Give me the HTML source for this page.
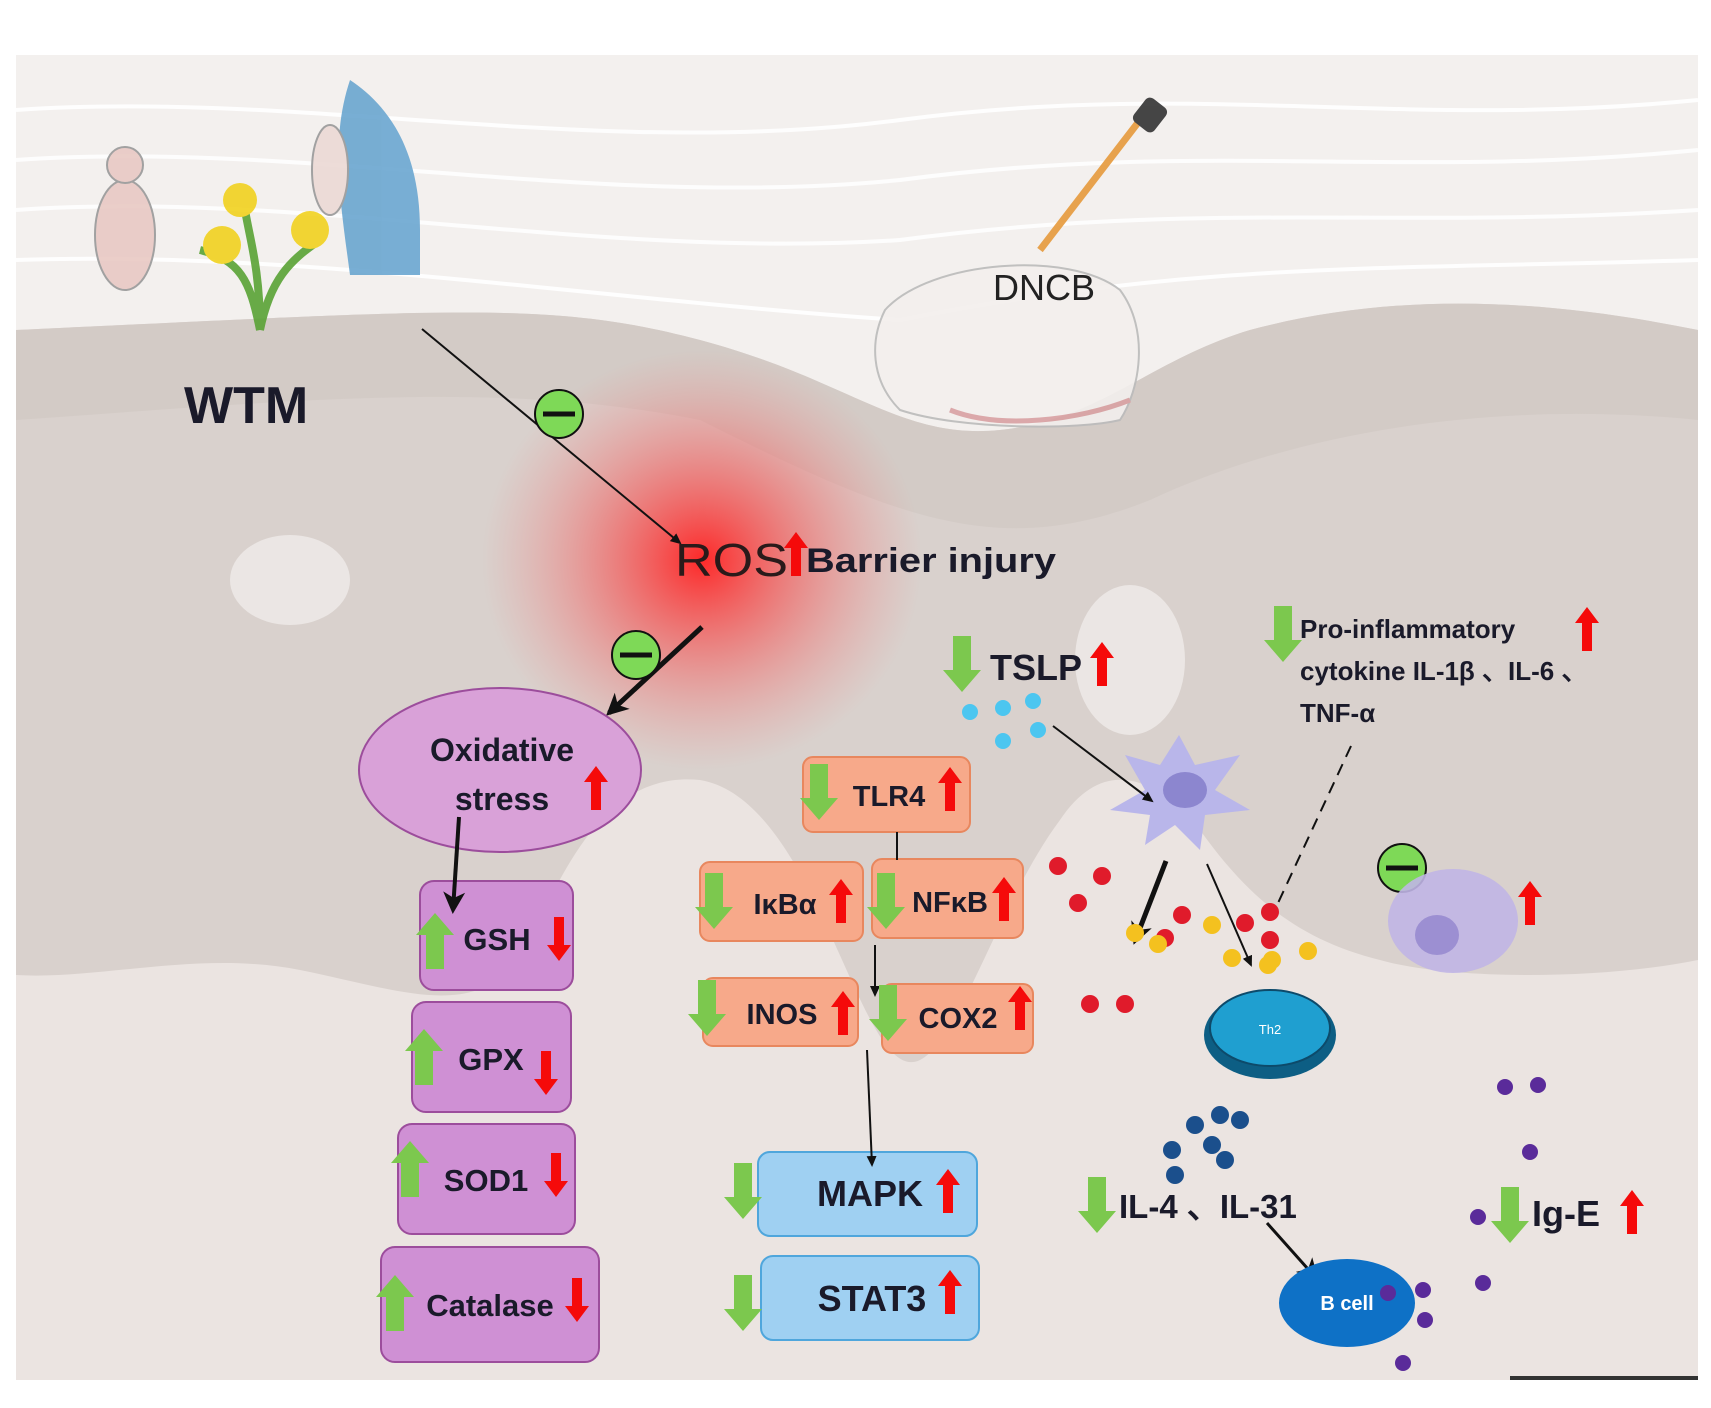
<!DOCTYPE html>
<html><head><meta charset="utf-8"><style>
html,body{margin:0;padding:0;background:#fff;}
svg{display:block}
text{font-family:"Liberation Sans",sans-serif;}
.b{font-weight:bold;fill:#1a1a2a;}
</style></head><body>
<svg width="1711" height="1408" viewBox="0 0 1711 1408" xmlns="http://www.w3.org/2000/svg">
<defs>
<radialGradient id="glow" cx="50%" cy="50%" r="50%">
<stop offset="0" stop-color="#ff2020" stop-opacity="0.95"/>
<stop offset="0.45" stop-color="#f55050" stop-opacity="0.55"/>
<stop offset="1" stop-color="#f08080" stop-opacity="0"/>
</radialGradient>
<path id="ru" d="M0,-22 L12,-6 L5,-6 L5,22 L-5,22 L-5,-6 L-12,-6Z" fill="#f50a0a"/>
<path id="rd" d="M0,22 L12,6 L5,6 L5,-22 L-5,-22 L-5,6 L-12,6Z" fill="#f50a0a"/>
<path id="gu" d="M0,-28 L19,-6 L9,-6 L9,28 L-9,28 L-9,-6 L-19,-6Z" fill="#7cc84e"/>
<path id="gd" d="M0,28 L19,6 L9,6 L9,-28 L-9,-28 L-9,6 L-19,6Z" fill="#7cc84e"/>
<marker id="ah" markerWidth="12" markerHeight="12" refX="9" refY="6" orient="auto" markerUnits="userSpaceOnUse"><path d="M0,1 L11,6 L0,11 Z" fill="#111"/></marker>
<marker id="ahb" markerWidth="24" markerHeight="24" refX="18" refY="12" orient="auto" markerUnits="userSpaceOnUse"><path d="M0,1 L22,12 L0,23 L6,12 Z" fill="#111"/></marker>
</defs>
<rect width="1711" height="1408" fill="#fff"/>
<rect x="16" y="55" width="1682" height="1325" fill="#ebe4e1"/>
<path d="M16,55 H1698 V330 C1550,300 1400,290 1250,330 C1150,360 1100,420 1000,430 C900,440 850,380 700,340 C550,300 450,310 16,330 Z" fill="#f3f0ee"/>
<g stroke="#fff" stroke-width="4" fill="none" opacity="0.9">
<path d="M16,110 C300,90 600,160 900,120 C1200,80 1400,130 1698,100"/>
<path d="M16,160 C300,140 600,210 900,180 C1200,140 1400,180 1698,150"/>
<path d="M16,210 C300,190 600,260 900,240 C1200,200 1400,230 1698,210"/>
<path d="M16,260 C300,250 600,300 900,320 C1200,260 1400,270 1698,260"/>
</g>
<path d="M16,330 C450,310 550,300 700,340 C850,380 900,440 1000,430 C1100,420 1150,360 1250,330 C1400,290 1550,300 1698,330 V960 C1600,980 1450,980 1380,960 C1300,940 1250,900 1200,830 C1150,770 1100,760 1060,820 C1000,900 960,1040 920,1060 C860,1090 820,800 700,780 C600,770 560,880 520,960 C470,1020 400,990 300,970 C200,950 100,980 16,975 Z" fill="#d9d1cd"/>
<path d="M16,330 C450,310 550,300 700,340 C850,380 900,440 1000,430 C1100,420 1150,360 1250,330 C1400,290 1550,300 1698,330 V420 C1500,400 1300,430 1150,500 C1000,560 900,520 700,420 C500,380 300,400 16,420Z" fill="#cfc6c2" opacity="0.6"/>
<ellipse cx="290" cy="580" rx="60" ry="45" fill="#ebe6e4"/>
<ellipse cx="1130" cy="660" rx="55" ry="75" fill="#ebe6e4"/>
<ellipse cx="702" cy="560" rx="220" ry="210" fill="url(#glow)"/>
<g opacity="0.9">
<ellipse cx="125" cy="235" rx="30" ry="55" fill="#e9c9c4" stroke="#999" stroke-width="2"/>
<circle cx="125" cy="165" r="18" fill="#e9c9c4" stroke="#999" stroke-width="2"/>
<path d="M350,80 C380,100 420,140 420,230 V275 H350 C340,200 330,140 350,80Z" fill="#6aa6d0"/>
<ellipse cx="330" cy="170" rx="18" ry="45" fill="#ecd9d5" stroke="#999" stroke-width="2"/>
<path d="M260,330 C250,280 240,260 200,250 M260,330 C270,280 290,260 320,240 M260,330 C260,270 250,240 245,210" stroke="#5aa335" stroke-width="8" fill="none"/>
<circle cx="240" cy="200" r="17" fill="#f1d21f"/><circle cx="222" cy="245" r="19" fill="#f1d21f"/><circle cx="310" cy="230" r="19" fill="#f1d21f"/>
<path d="M885,310 C930,260 1070,250 1120,290 C1150,330 1140,390 1120,420 C1080,430 960,430 900,410 C870,380 870,340 885,310Z" fill="#f3efed" stroke="#bbb" stroke-width="2"/>
<path d="M950,410 C1000,430 1080,420 1130,400" stroke="#d9a1a3" stroke-width="5" fill="none"/>
<path d="M1040,250 L1140,120" stroke="#e69a3c" stroke-width="7"/>
<rect x="1137" y="100" width="26" height="30" rx="6" fill="#333" transform="rotate(38 1150 115)"/>
</g>
<text x="993" y="300" font-size="36" fill="#222">DNCB</text>
<text x="184" y="423" font-size="52" class="b" fill="#111">WTM</text>
<line x1="422" y1="329" x2="680" y2="543" stroke="#111" stroke-width="2" marker-end="url(#ah)"/>
<line x1="702" y1="627" x2="609" y2="713" stroke="#111" stroke-width="5" marker-end="url(#ahb)"/>
<g stroke="#111" stroke-width="2"><circle cx="559" cy="414" r="24" fill="#7ed957"/><circle cx="636" cy="655" r="24" fill="#7ed957"/><circle cx="1402" cy="868" r="24" fill="#7ed957"/></g>
<g stroke="#111" stroke-width="5"><line x1="543" y1="414" x2="575" y2="414"/><line x1="620" y1="655" x2="652" y2="655"/><line x1="1386" y1="868" x2="1418" y2="868"/></g>
<text x="675" y="576" font-size="46" fill="#2a1a1a" textLength="113" lengthAdjust="spacingAndGlyphs">ROS</text>
<use href="#ru" x="796" y="554"/>
<text x="806" y="572" font-size="34" class="b" textLength="250" lengthAdjust="spacingAndGlyphs">Barrier injury</text>
<ellipse cx="500" cy="770" rx="141" ry="82" fill="#d9a1d8" stroke="#9c4d9c" stroke-width="2"/>
<text x="502" y="761" font-size="32" class="b" text-anchor="middle">Oxidative</text>
<text x="502" y="810" font-size="32" class="b" text-anchor="middle">stress</text>
<use href="#ru" x="596" y="788"/>
<g fill="#cf90d4" stroke="#9c4d9c" stroke-width="2">
<rect x="420" y="881" width="153" height="109" rx="14"/>
<rect x="412" y="1002" width="159" height="110" rx="14"/>
<rect x="398" y="1124" width="177" height="110" rx="14"/>
<rect x="381" y="1247" width="218" height="115" rx="14"/>
</g>
<line x1="459" y1="817" x2="453" y2="910" stroke="#111" stroke-width="4" marker-end="url(#ahb)"/>
<g font-size="31" class="b" text-anchor="middle">
<text x="497" y="950">GSH</text><text x="491" y="1070">GPX</text><text x="486" y="1191">SOD1</text><text x="490" y="1316">Catalase</text>
</g>
<use href="#gu" x="435" y="941"/><use href="#rd" x="559" y="939"/>
<use href="#gu" x="424" y="1057"/><use href="#rd" x="546" y="1073"/>
<use href="#gu" x="410" y="1169"/><use href="#rd" x="556" y="1175"/>
<use href="#gu" x="395" y="1303"/><use href="#rd" x="577" y="1300"/>
<g fill="#f7a98a" stroke="#e8875e" stroke-width="2">
<rect x="803" y="757" width="167" height="75" rx="10"/>
<rect x="700" y="862" width="163" height="79" rx="10"/>
<rect x="872" y="859" width="151" height="79" rx="10"/>
<rect x="703" y="978" width="155" height="68" rx="10"/>
<rect x="882" y="984" width="151" height="69" rx="10"/>
</g>
<g fill="#9fd0f2" stroke="#4fa6dc" stroke-width="2">
<rect x="758" y="1152" width="219" height="84" rx="12"/>
<rect x="761" y="1256" width="218" height="84" rx="12"/>
</g>
<line x1="897" y1="832" x2="897" y2="860" stroke="#111" stroke-width="2"/>
<line x1="875" y1="945" x2="875" y2="995" stroke="#111" stroke-width="2" marker-end="url(#ah)"/>
<line x1="867" y1="1050" x2="872" y2="1165" stroke="#111" stroke-width="2" marker-end="url(#ah)"/>
<g font-size="29" class="b" text-anchor="middle">
<text x="889" y="806">TLR4</text><text x="785" y="914">IκBα</text><text x="950" y="912">NFκB</text>
<text x="782" y="1024">INOS</text><text x="958" y="1028">COX2</text>
</g>
<g font-size="36" class="b" text-anchor="middle"><text x="870" y="1206">MAPK</text><text x="872" y="1311">STAT3</text></g>
<use href="#gd" x="819" y="792"/><use href="#ru" x="950" y="789"/>
<use href="#gd" x="714" y="901"/><use href="#ru" x="841" y="901"/>
<use href="#gd" x="886" y="901"/><use href="#ru" x="1004" y="899"/>
<use href="#gd" x="707" y="1008"/><use href="#ru" x="843" y="1013"/>
<use href="#gd" x="888" y="1013"/><use href="#ru" x="1020" y="1008"/>
<use href="#gd" x="743" y="1191"/><use href="#ru" x="948" y="1191"/>
<use href="#gd" x="743" y="1303"/><use href="#ru" x="950" y="1292"/>
<use href="#gd" x="962" y="664"/><text x="990" y="680" font-size="36" class="b">TSLP</text><use href="#ru" x="1102" y="664"/>
<use href="#gd" x="1283" y="634"/>
<g font-size="26" class="b"><text x="1300" y="638">Pro-inflammatory</text><text x="1300" y="680">cytokine IL-1β 、IL-6 、</text><text x="1300" y="722">TNF-α</text></g>
<use href="#ru" x="1587" y="629"/>
<g fill="#4cc6f0"><circle cx="970" cy="712" r="8"/><circle cx="1003" cy="708" r="8"/><circle cx="1033" cy="701" r="8"/><circle cx="1003" cy="741" r="8"/><circle cx="1038" cy="730" r="8"/></g>
<path d="M1179,735 L1195,765 L1240,755 L1215,790 L1250,810 L1205,815 L1200,850 L1175,825 L1145,845 L1150,815 L1110,810 L1145,790 L1125,755 L1160,765Z" fill="#b9b6ea"/>
<ellipse cx="1185" cy="790" rx="22" ry="18" fill="#8c86cf"/>
<line x1="1053" y1="726" x2="1152" y2="801" stroke="#111" stroke-width="2" marker-end="url(#ah)"/>
<line x1="1166" y1="861" x2="1135" y2="941" stroke="#111" stroke-width="5" marker-end="url(#ahb)"/>
<line x1="1207" y1="864" x2="1251" y2="965" stroke="#111" stroke-width="2" marker-end="url(#ah)"/>
<line x1="1351" y1="746" x2="1272" y2="916" stroke="#111" stroke-width="2" stroke-dasharray="12,8"/>
<g fill="#e01b2b"><circle cx="1058" cy="866" r="9"/><circle cx="1102" cy="876" r="9"/><circle cx="1078" cy="903" r="9"/><circle cx="1182" cy="915" r="9"/><circle cx="1165" cy="938" r="9"/><circle cx="1245" cy="923" r="9"/><circle cx="1270" cy="912" r="9"/><circle cx="1090" cy="1004" r="9"/><circle cx="1125" cy="1004" r="9"/><circle cx="1270" cy="940" r="9"/></g>
<g fill="#f4c11f"><circle cx="1135" cy="933" r="9"/><circle cx="1158" cy="944" r="9"/><circle cx="1212" cy="925" r="9"/><circle cx="1232" cy="958" r="9"/><circle cx="1272" cy="960" r="9"/><circle cx="1308" cy="951" r="9"/><circle cx="1268" cy="965" r="9"/></g>
<ellipse cx="1453" cy="921" rx="65" ry="52" fill="#c0b5e6" opacity="0.9"/>
<ellipse cx="1437" cy="935" rx="22" ry="20" fill="#9c8fd2"/>
<use href="#ru" x="1530" y="903"/>
<ellipse cx="1270" cy="1035" rx="66" ry="44" fill="#0d5e84"/>
<ellipse cx="1270" cy="1028" rx="60" ry="38" fill="#1f9fd0" stroke="#0d4a6a" stroke-width="2"/>
<text x="1270" y="1034" font-size="13" fill="#fff" text-anchor="middle" font-family="Liberation Serif,serif">Th2</text>
<g fill="#1b4f8c"><circle cx="1195" cy="1125" r="9"/><circle cx="1220" cy="1115" r="9"/><circle cx="1240" cy="1120" r="9"/><circle cx="1212" cy="1145" r="9"/><circle cx="1225" cy="1160" r="9"/><circle cx="1172" cy="1150" r="9"/><circle cx="1175" cy="1175" r="9"/></g>
<use href="#gd" x="1097" y="1205"/>
<text x="1119" y="1218" font-size="33" class="b">IL-4 、IL-31</text>
<line x1="1267" y1="1223" x2="1316" y2="1278" stroke="#111" stroke-width="3" marker-end="url(#ahb)"/>
<ellipse cx="1347" cy="1303" rx="68" ry="44" fill="#0e71c6"/>
<text x="1347" y="1310" font-size="20" fill="#fff" font-weight="bold" text-anchor="middle">B cell</text>
<g fill="#5a2b9a"><circle cx="1505" cy="1087" r="8"/><circle cx="1538" cy="1085" r="8"/><circle cx="1530" cy="1152" r="8"/><circle cx="1478" cy="1217" r="8"/><circle cx="1483" cy="1283" r="8"/><circle cx="1388" cy="1293" r="8"/><circle cx="1423" cy="1290" r="8"/><circle cx="1425" cy="1320" r="8"/><circle cx="1403" cy="1363" r="8"/></g>
<use href="#gd" x="1510" y="1215"/>
<text x="1532" y="1226" font-size="36" class="b">Ig-E</text>
<use href="#ru" x="1632" y="1212"/>
<rect x="1510" y="1376" width="188" height="4" fill="#333"/>
</svg>
</body></html>
